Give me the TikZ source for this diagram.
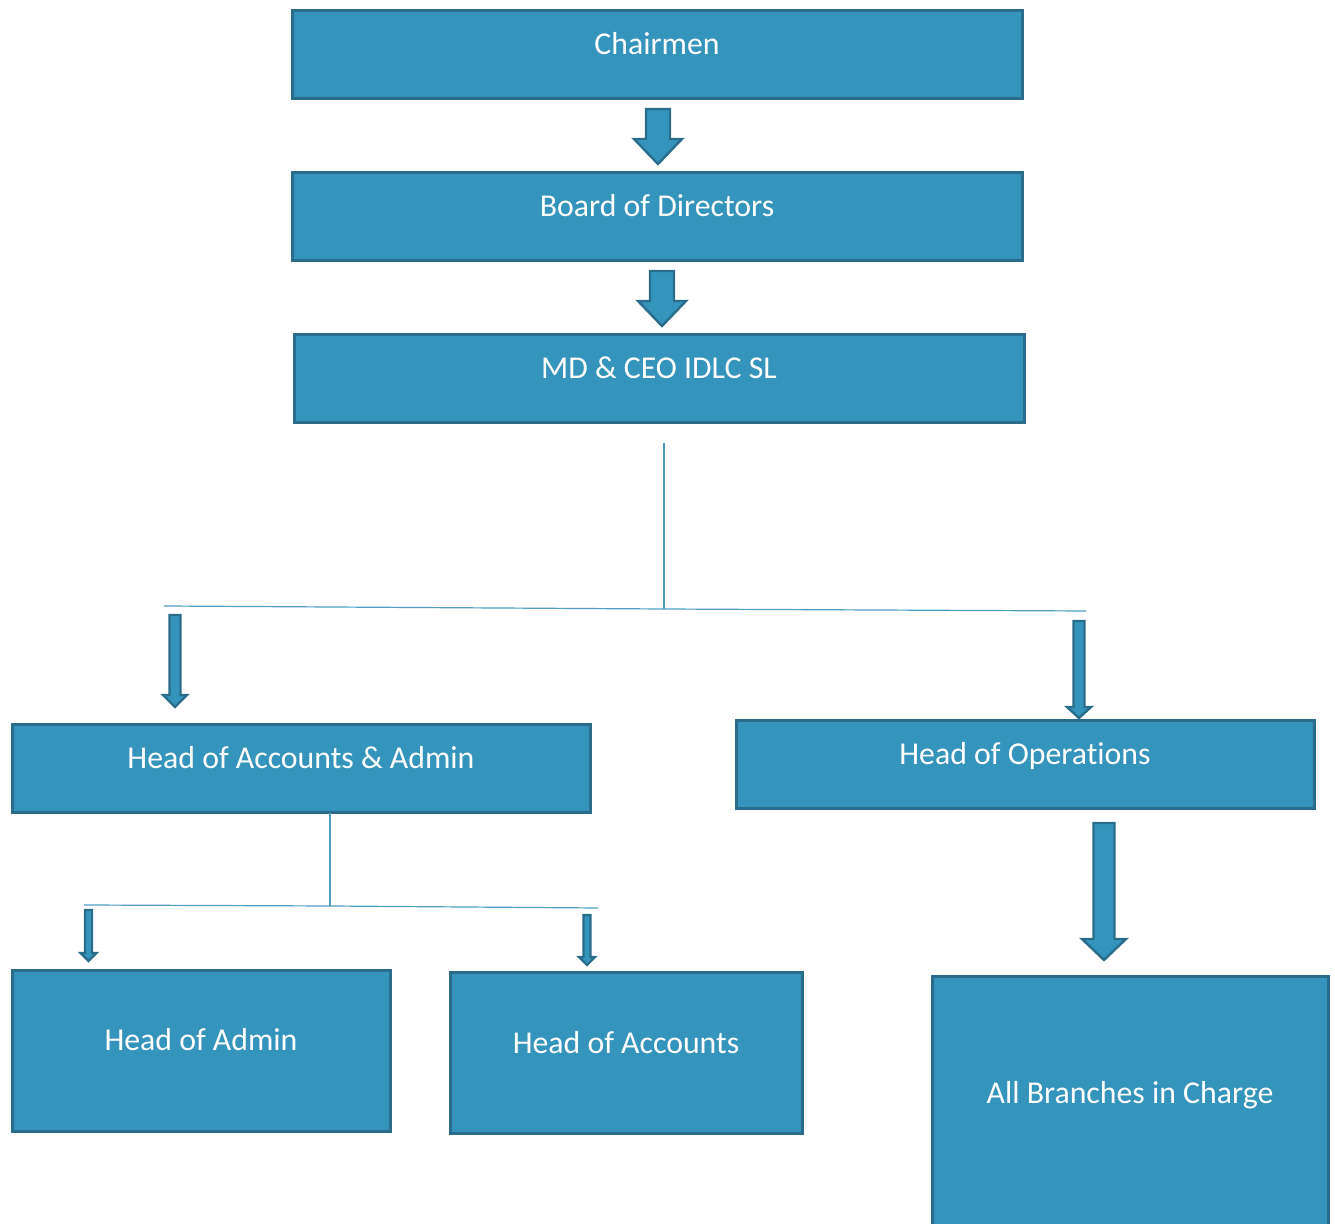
\documentclass[tikz,border=0pt]{standalone}
\usepackage{fontspec}
\setmainfont{Carlito}[Ligatures=NoCommon]
\definecolor{boxfill}{HTML}{3594BB}
\definecolor{boxedge}{HTML}{2A6D8A}
\definecolor{linkline}{HTML}{4E9DC3}
\tikzset{
  box/.style={draw=boxedge, fill=boxfill, line width=1.5pt, inner sep=0pt},
  label text/.style={text=white, font=\fontsize{15.9}{19}\selectfont, anchor=base, inner sep=0pt},
  link/.style={draw=linkline, line width=0.6pt},
  blockarrow/.style={draw=boxedge, fill=boxfill, line width=1.2pt, line join=miter}
}
% down-pointing block arrow: x-centre, top, shaft half width, head half width, head start, tip
\newcommand{\downblock}[6]{%
  \draw[blockarrow] (#1-#3,#2) -- (#1+#3,#2) -- (#1+#3,#5) -- (#1+#4,#5)
    -- (#1,#6) -- (#1-#4,#5) -- (#1-#3,#5) -- cycle;}
\begin{document}
\begin{tikzpicture}[x=0.5pt,y=-0.5pt]
\useasboundingbox (0,0) rectangle (1335,1224);
\clip (0,0) rectangle (1335,1224);

% boxes
\path[box] (292,11) rectangle (1022,99) node[midway] (chair) {};
\path[box] (292,173) rectangle (1022,261) node[midway] (board) {};
\path[box] (294,335) rectangle (1024,423) node[midway] (md) {};
\path[box] (12,725) rectangle (590,813) node[midway] (hacc) {};
\path[box] (736,721) rectangle (1314,809) node[midway] (hops) {};
\path[box] (12,971) rectangle (390,1131) node[midway] (hadm) {};
\path[box] (450,973) rectangle (802,1133) node[midway] (hacct) {};
\path[box] (932,977) rectangle (1328,1240) node[midway] (allbr) {};

% labels
\node[label text] (chairT) at (657,55) {Chairmen};
\node[label text] (boardT) at (657,217) {Board of Directors};
\node[label text] (mdT) at (659,379) {MD \& CEO IDLC SL};
\node[label text] (haccT) at (301,769) {Head of Accounts \& Admin};
\node[label text] (hopsT) at (1025,765) {Head of Operat\kern0pt ions};
\node[label text] (hadmT) at (201,1051) {Head of Admin};
\node[label text] (hacctT) at (626,1053) {Head of Accounts};
\node[label text] (allbrT) at (1130,1103) {All Branches in Charge};

% connector lines
\coordinate (mdDrop) at (664,443);
\coordinate (mdJoin) at (664,609);
\coordinate (busL) at (164,606);
\coordinate (busR) at (1086,611);
\draw[link] (mdDrop) -- (mdJoin);
\draw[link] (busL) -- (mdJoin) -- (busR);

\coordinate (accDrop) at (330,813);
\coordinate (accJoin) at (330,906);
\coordinate (subL) at (84,905);
\coordinate (subR) at (598,908);
\draw[link] (accDrop) -- (accJoin);
\draw[link] (subL) -- (accJoin) -- (subR);

% block arrows
\downblock{658}{109}{12}{24}{139}{164}
\downblock{662}{271}{12}{24}{301}{326}
\downblock{175}{615}{5.5}{12}{695}{707}
\downblock{1079}{621}{5.5}{12}{707}{718}
\downblock{1104}{823}{10.5}{22}{939}{960}
\downblock{88.5}{910}{3.5}{8}{953}{961}
\downblock{587}{915}{3.5}{8}{957}{965}
\end{tikzpicture}
\end{document}
